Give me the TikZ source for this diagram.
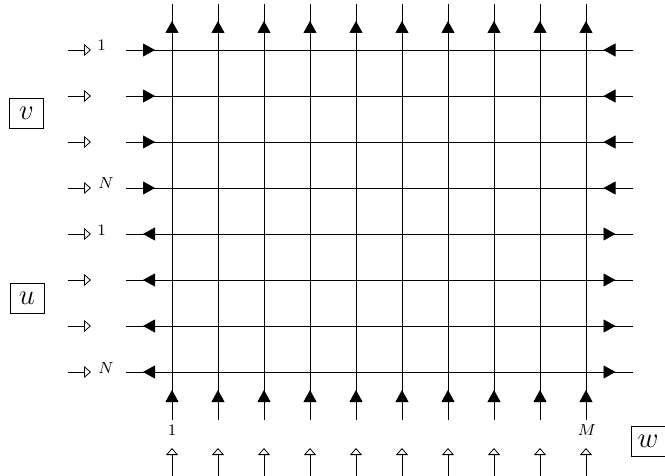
\documentclass[tikz,border=0pt]{standalone}
\usetikzlibrary{arrows.meta,calc}
\begin{document}
\begin{tikzpicture}[x=0.5pt,y=-0.5pt,
  gridline/.style={line width=0.4pt},
  flow/.style={line width=0.4pt,-{Triangle[length=6pt,width=6.5pt]}},
  feed/.style={line width=0.4pt,-{Triangle[open,length=3.5pt,width=6pt]}},
  idx/.style={font=\footnotesize, inner sep=0pt, anchor=base west},
  idxc/.style={font=\footnotesize, inner sep=0pt, anchor=base},
  var/.style={draw, line width=0.4pt, font=\Large, minimum width=17pt, minimum height=15pt, inner sep=0pt}]
\useasboundingbox (0,0) rectangle (665,476);
% coordinates
\foreach \r [evaluate=\r as \y using 4+46*\r] in {1,...,8} {
  \coordinate (L\r) at (126,\y);
  \coordinate (A\r) at (172,\y);
  \coordinate (Z\r) at (586,\y);
  \coordinate (R\r) at (633,\y);
  \coordinate (S\r) at (68,\y);
  \coordinate (E\r) at (91,\y);
}
\foreach \c [evaluate=\c as \x using 126+46*\c] in {1,...,10} {
  \coordinate (T\c) at (\x,4);
  \coordinate (P\c) at (\x,50);
  \coordinate (Q\c) at (\x,372);
  \coordinate (B\c) at (\x,420);
  \coordinate (F\c) at (\x,476);
  \coordinate (G\c) at (\x,448);
}
% grid lines
\foreach \r in {1,...,8} { \draw[gridline] (L\r) -- (R\r); \draw[feed] (S\r) -- (E\r); }
\foreach \c in {1,...,10} { \draw[gridline] (T\c) -- (B\c); \draw[feed] (F\c) -- (G\c); }
% row arrows
\foreach \r in {1,...,4} {
  \draw[flow] (L\r) -- ($(L\r)!0.5!(A\r)+(6,0)$);
  \draw[flow] (R\r) -- ($(R\r)!0.5!(Z\r)+(-6,0)$);
}
\foreach \r in {5,...,8} {
  \draw[flow] (A\r) -- ($(L\r)!0.5!(A\r)+(-6,0)$);
  \draw[flow] (Z\r) -- ($(R\r)!0.5!(Z\r)+(6,0)$);
}
% column arrows
\foreach \c in {1,...,10} {
  \draw[flow] (P\c) -- ($(T\c)!0.5!(P\c)+(0,-6)$);
  \draw[flow] (B\c) -- ($(B\c)!0.5!(Q\c)+(0,-6)$);
}
% index labels
\node[idx] (i1) at (97,51) {$1$};
\node[idx] (iN) at (98,189) {$N$};
\node[idx] (j1) at (97,235) {$1$};
\node[idx] (jN) at (98,373) {$N$};
\node[idxc] (k1) at (172,436) {$1$};
\node[idxc] (kM) at (587,436) {$M$};
% variable boxes
\node[var] (v) at (26.5,113) {$v$};
\node[var] (u) at (27,298) {$u$};
\node[var] (w) at (648,441) {$w$};
\end{tikzpicture}
\end{document}
